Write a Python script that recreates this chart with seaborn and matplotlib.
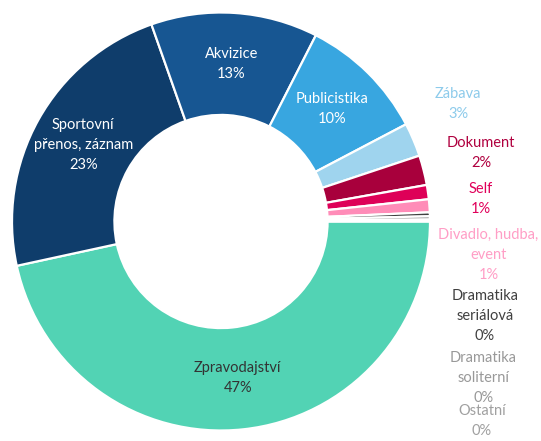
import numpy as np
import matplotlib
matplotlib.use("Agg")
import matplotlib.pyplot as plt
import seaborn as sns

# Podíl žánrů (v %)
categories = [
    "Zpravodajství",
    "Sportovní\npřenos, záznam",
    "Akvizice",
    "Publicistika",
    "Zábava",
    "Dokument",
    "Self",
    "Divadlo, hudba,\nevent",
    "Dramatika\nseriálová",
    "Dramatika\nsoliterní",
    "Ostatní",
]
shares = [46.6, 23.0, 12.9, 9.8, 2.6, 2.3, 1.1, 1.0, 0.3, 0.25, 0.15]

slice_colors = ["#52D3B4", "#0F3D6B", "#175692", "#38A6E0", "#9FD4EE",
                "#A8003C", "#DE0058", "#FF8CB8", "#404040", "#8C8C8C", "#A6A6A6"]
text_colors = ["#333333", "white", "white", "white", "#8DCBEB",
               "#B0003F", "#E0005A", "#FF9EC6", "#404040", "#999999", "#A0A0A0"]

# Popisky uvnitř prstence (prvních n kategorií), ostatní vpravo ve sloupci
n_inside = 4
outside_pos = [(1.134, 0.562), (1.244, 0.330), (1.244, 0.108), (1.280, -0.160),
               (1.263, -0.452), (1.254, -0.749), (1.249, -0.955)]

sns.set_theme(style="white")
plt.rcParams["font.family"] = ["Lato", "DejaVu Sans"]
palette = sns.color_palette(slice_colors)

fig = plt.figure(figsize=(5.41, 4.41), dpi=100)
ax = fig.add_axes([12 / 541, (441 - 430.5) / 441, 418 / 541, 418 / 441])

ring = 0.49
wedges, _ = ax.pie(
    shares,
    colors=palette,
    startangle=0,
    counterclock=False,
    radius=1.0,
    wedgeprops=dict(width=ring, edgecolor="white", linewidth=1.6),
)
ax.set_xlim(-1, 1)
ax.set_ylim(-1, 1)
ax.set_aspect("equal")
ax.axis("off")

fs = 10.5
ls = 1.55
for i, (w, name, val) in enumerate(zip(wedges, categories, shares)):
    label = f"{name}\n{round(val):d}%"
    if i < n_inside:
        ang = np.deg2rad((w.theta1 + w.theta2) / 2)
        r = 1 - ring / 2
        ax.text(r * np.cos(ang), r * np.sin(ang), label, ha="center", va="center",
                color=text_colors[i], fontsize=fs, linespacing=ls)
    else:
        x, y = outside_pos[i - n_inside]
        ax.text(x, y, label, ha="center", va="center", color=text_colors[i],
                fontsize=fs, linespacing=ls, clip_on=False)

fig.savefig("out.png", dpi=100)
